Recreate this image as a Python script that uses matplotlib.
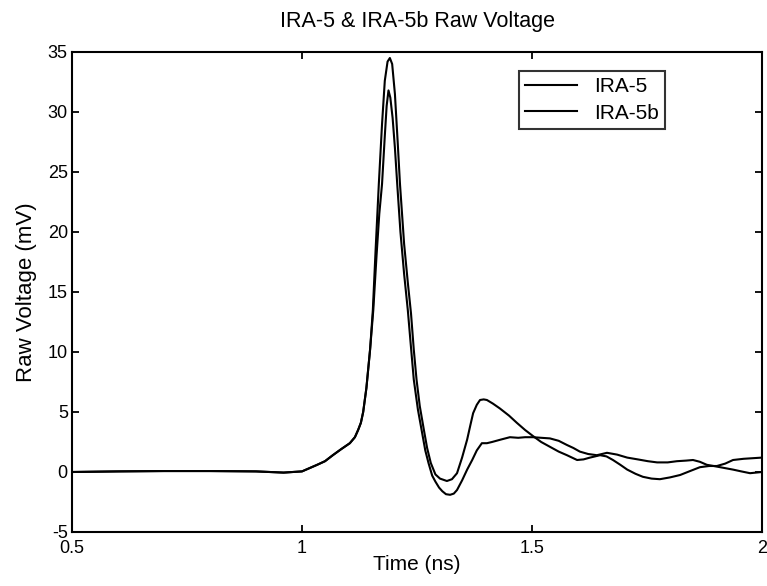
import matplotlib
matplotlib.use("Agg")
import matplotlib.pyplot as plt

# IRA-5 / IRA-5b raw voltage
t_ira5 = [0.50, 0.60, 0.70, 0.80, 0.90, 0.96, 1.00, 1.033, 1.05, 1.067, 1.085,
          1.104, 1.115, 1.122, 1.128, 1.133, 1.140, 1.148, 1.154, 1.160, 1.167,
          1.174, 1.180, 1.186, 1.191, 1.196, 1.202, 1.208, 1.213, 1.222, 1.230,
          1.237, 1.243, 1.249, 1.256, 1.265, 1.272, 1.280, 1.290, 1.300, 1.315,
          1.326, 1.337, 1.348, 1.359, 1.366, 1.372, 1.380, 1.387, 1.395, 1.402,
          1.415, 1.430, 1.450, 1.467, 1.485, 1.502, 1.520, 1.539, 1.558, 1.576,
          1.598, 1.612, 1.626, 1.648, 1.662, 1.676, 1.692, 1.707, 1.725, 1.741,
          1.760, 1.778, 1.800, 1.822, 1.845, 1.865, 1.885, 1.902, 1.920, 1.937,
          1.960, 1.980, 2.00]
v_ira5 = [0.0, 0.05, 0.08, 0.08, 0.05, -0.05, 0.05, 0.6, 0.9, 1.4, 1.9,
          2.4, 2.9, 3.5, 4.1, 5.0, 7.0, 10.2, 13.5, 18.5, 24.0,
          29.0, 32.6, 34.2, 34.5, 34.0, 31.5, 27.5, 24.0, 19.0, 15.8,
          13.2, 10.2, 7.7, 5.5, 3.5, 2.0, 0.75, -0.2, -0.55, -0.75,
          -0.6, -0.1, 1.2, 2.7, 3.9, 4.9, 5.6, 6.0, 6.05, 6.0,
          5.7, 5.3, 4.7, 4.1, 3.5, 3.0, 2.5, 2.1, 1.7, 1.4,
          1.0, 1.05, 1.2, 1.4, 1.3, 1.0, 0.6, 0.2, -0.15, -0.4,
          -0.55, -0.6, -0.45, -0.25, 0.1, 0.4, 0.5, 0.5, 0.7, 1.0,
          1.1, 1.15, 1.2]

t_ira5b = [0.50, 0.60, 0.70, 0.80, 0.90, 0.96, 1.00, 1.033, 1.05, 1.067, 1.085,
           1.104, 1.115, 1.122, 1.128, 1.133, 1.140, 1.148, 1.155, 1.162, 1.168,
           1.174, 1.180, 1.184, 1.188, 1.192, 1.197, 1.202, 1.207, 1.214, 1.222,
           1.230, 1.236, 1.243, 1.252, 1.260, 1.268, 1.275, 1.283, 1.290, 1.298,
           1.305, 1.313, 1.322, 1.330, 1.337, 1.348, 1.359, 1.370, 1.380, 1.391,
           1.402, 1.413, 1.432, 1.452, 1.470, 1.485, 1.502, 1.520, 1.539, 1.558,
           1.576, 1.590, 1.604, 1.622, 1.641, 1.652, 1.663, 1.685, 1.707, 1.730,
           1.752, 1.772, 1.795, 1.815, 1.835, 1.850, 1.865, 1.880, 1.895, 1.909,
           1.937, 1.955, 1.974, 2.00]
v_ira5b = [0.0, 0.05, 0.08, 0.08, 0.05, -0.05, 0.05, 0.6, 0.9, 1.4, 1.9,
           2.4, 2.9, 3.5, 4.1, 5.0, 7.0, 10.2, 13.5, 18.0, 21.5,
           24.0, 28.0, 30.5, 31.8, 31.2, 29.5, 27.0, 24.0, 20.0, 16.5,
           13.5, 10.8, 7.7, 5.2, 3.5, 1.8, 0.75, -0.3, -0.8, -1.3,
           -1.6, -1.85, -1.9, -1.8, -1.5, -0.7, 0.2, 1.0, 1.8, 2.4,
           2.4, 2.5, 2.7, 2.9, 2.85, 2.9, 2.9, 2.85, 2.8, 2.6,
           2.25, 2.0, 1.7, 1.5, 1.4, 1.5, 1.6, 1.45, 1.2, 1.05,
           0.9, 0.8, 0.8, 0.9, 0.95, 1.0, 0.85, 0.6, 0.5, 0.4,
           0.2, 0.05, -0.1, 0.0]

plt.rcParams['font.family'] = ['Liberation Sans', 'DejaVu Sans']
plt.rcParams['axes.unicode_minus'] = False

fig = plt.figure(figsize=(7.67, 5.86), dpi=100)
ax = fig.add_axes([72 / 767, 1 - 532 / 586, 690 / 767, 480 / 586])

ax.plot(t_ira5, v_ira5, color='black', lw=1.5, label='IRA-5')
ax.plot(t_ira5b, v_ira5b, color='black', lw=1.5, label='IRA-5b')

ax.set_xlim(0.5, 2.0)
ax.set_ylim(-5, 35)
ax.set_xticks([0.5, 1, 1.5, 2])
ax.set_xticklabels(['0.5', '1', '1.5', '2'])
ax.set_yticks(range(-5, 36, 5))
ax.tick_params(direction='in', top=True, right=True, length=5, width=1.3,
               labelsize=13, pad=3)
ax.tick_params(axis='x', pad=5.5)
for s in ax.spines.values():
    s.set_linewidth(1.5)

ax.set_title('IRA-5 & IRA-5b Raw Voltage', fontsize=15.5, pad=18)
ax.set_xlabel('Time (ns)', fontsize=15, labelpad=-1)
ax.set_ylabel('Raw Voltage (mV)', fontsize=16, labelpad=8)

leg = ax.legend(loc='upper left', bbox_to_anchor=(0.648, 0.96), fontsize=15,
                frameon=True, fancybox=False, handlelength=2.5,
                handletextpad=0.8, borderpad=0.3, labelspacing=0.35,
                borderaxespad=0)
leg.get_frame().set_edgecolor('black')
leg.get_frame().set_linewidth(1.5)

fig.savefig('out.png', dpi=100)
